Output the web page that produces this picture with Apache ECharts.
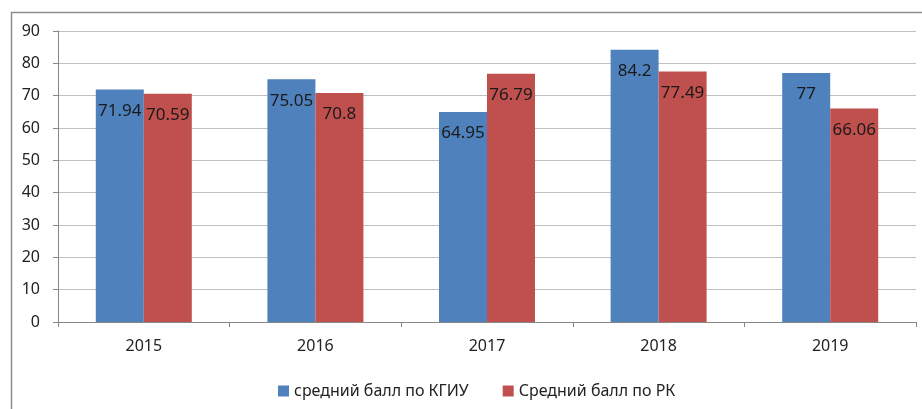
<!DOCTYPE html>
<html>
<head>
<meta charset="utf-8">
<script src="https://cdn.jsdelivr.net/npm/echarts@6/dist/echarts.min.js"></script>
<style>html,body{margin:0;padding:0;background:#fff;}#c{width:922px;height:409px;}</style>
</head>
<body>
<div id="c"></div>
<script>
var categories = ['2015', '2016', '2017', '2018', '2019'];
var kgiuValues = [71.94, 75.05, 64.95, 84.2, 77];
var rkValues = [70.59, 70.8, 76.79, 77.49, 66.06];
var seriesNames = ['средний балл по КГИУ', 'Средний балл по РК'];

var chart = echarts.init(document.getElementById('c'), null, {renderer: 'canvas'});
var font = '"Noto Sans", "Open Sans", sans-serif';
var labelCfg = {
  show: true, position: 'insideTop', distance: 13,
  color: '#1a1a1a', fontSize: 17, fontFamily: font
};
chart.setOption({
  animation: false,
  backgroundColor: '#fff',
  graphic: [{
    type: 'rect', left: 9, top: 10, silent: true,
    shape: {width: 1000, height: 500},
    style: {fill: 'none', stroke: '#8c8c8c', lineWidth: 1.5}
  }],
  grid: {left: 58, right: 6, top: 31, bottom: 87, containLabel: false},
  legend: {
    left: 273, top: 378,
    itemWidth: 11, itemHeight: 11, itemGap: 34,
    icon: 'rect',
    textStyle: {fontSize: 16, fontFamily: font, color: '#222'},
    data: seriesNames
  },
  xAxis: {
    type: 'category', data: categories,
    axisLine: {lineStyle: {color: '#868686', width: 1}},
    axisTick: {show: true, length: 5, lineStyle: {color: '#868686'}},
    axisLabel: {fontSize: 16, fontFamily: font, color: '#222', margin: 16}
  },
  yAxis: {
    type: 'value', min: 0, max: 90, interval: 10,
    axisLine: {show: true, lineStyle: {color: '#868686', width: 1}},
    axisTick: {show: true, length: 5, lineStyle: {color: '#868686'}},
    axisLabel: {fontSize: 16, fontFamily: font, color: '#222', margin: 18},
    splitLine: {show: true, lineStyle: {color: '#c0c0c0', width: 1}}
  },
  series: [
    {name: seriesNames[0], type: 'bar', data: kgiuValues, barWidth: 48, barGap: '0%',
     itemStyle: {color: '#4F81BD'}, label: labelCfg},
    {name: seriesNames[1], type: 'bar', data: rkValues, barWidth: 48, barGap: '0%',
     itemStyle: {color: '#C0504D'}, label: labelCfg}
  ]
});
</script>
</body>
</html>
